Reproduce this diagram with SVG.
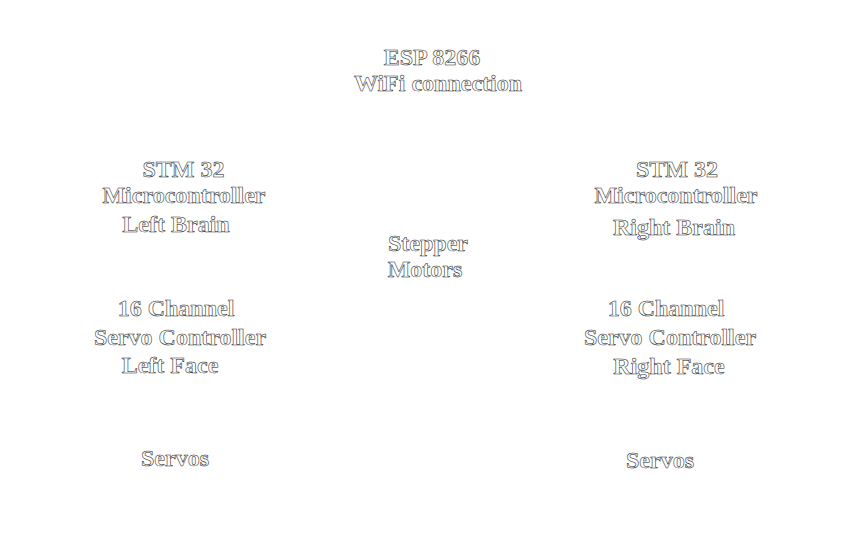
<svg xmlns="http://www.w3.org/2000/svg" width="864" height="557" viewBox="0 0 864 557">
<style>
text{font-family:"Liberation Serif","Times New Roman",serif;font-size:24px;font-weight:bold;fill:#ffffff;stroke:#222222;stroke-width:0.55;text-anchor:middle}
</style>
<rect width="864" height="557" fill="#ffffff"/>
<g id="connectors"></g>
<g id="esp">
<text x="432" y="65">ESP 8266</text>
<text x="438" y="91">WiFi connection</text>
</g>
<g id="stm-left">
<text x="183.5" y="177">STM 32</text>
<text x="184" y="203">Microcontroller</text>
<text x="176" y="232">Left Brain</text>
</g>
<g id="stm-right">
<text x="677" y="177">STM 32</text>
<text x="676" y="203">Microcontroller</text>
<text x="674" y="235">Right Brain</text>
</g>
<g id="stepper">
<text x="428" y="251">Stepper</text>
<text x="425" y="277">Motors</text>
</g>
<g id="servo-ctrl-left">
<text x="176" y="316">16 Channel</text>
<text x="180" y="345">Servo Controller</text>
<text x="170" y="373">Left Face</text>
</g>
<g id="servo-ctrl-right">
<text x="666" y="316">16 Channel</text>
<text x="670" y="345">Servo Controller</text>
<text x="669" y="374">Right Face</text>
</g>
<g id="servos-left">
<text x="175" y="466">Servos</text>
</g>
<g id="servos-right">
<text x="660" y="468">Servos</text>
</g>
</svg>
